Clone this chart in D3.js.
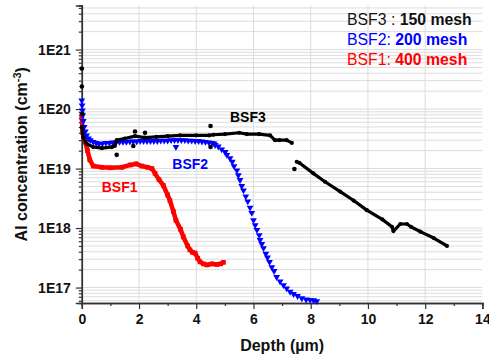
<!DOCTYPE html>
<html>
<head>
<meta charset="utf-8">
<script src="https://cdn.jsdelivr.net/npm/d3@7"></script>
<style>
  body { margin: 0; background: #fff; }
  svg { display: block; font-family: "Liberation Sans", Arial, sans-serif; }
</style>
</head>
<body>
<figure id="chart" style="margin:0"></figure>
<script>
// depth in µm, concentration in cm^-3
const bsf3Depth = [0.0, 0.05, 0.17, 0.4, 0.7, 1.05, 1.15, 1.22, 1.5, 1.86, 2.2, 2.6, 3.0, 3.44, 4.0, 4.45,
  4.6, 5.0, 5.5, 5.77, 6.2, 6.58, 6.75, 6.9, 7.16, 7.34, null,
  7.51, 7.6, 8.09, 8.5, 9.03, 9.5, 9.96, 10.5, 10.84, 10.89, 11.13, 11.36, 11.5, 11.83, 12.3, 12.76];
const bsf3Conc = [5.0e19, 3.3e19, 2.6e19, 2.3e19, 2.2e19, 2.3e19, 2.4e19, 3.0e19, 3.2e19, 3.5e19, 3.3e19, 3.4e19, 3.5e19, 3.6e19, 3.6e19, 3.6e19,
  3.7e19, 3.8e19, 4.0e19, 3.8e19, 3.8e19, 3.6e19, 3.0e19, 3.0e19, 3.0e19, 2.7e19, null,
  1.3e19, 1.25e19, 8.3e18, 6.0e18, 4.1e18, 2.9e18, 2.0e18, 1.4e18, 1.05e18, 8.9e17, 1.17e18, 1.17e18, 1.05e18, 8.7e17, 6.8e17, 5.0e17];
const bsf3OutDepth = [0.0, 0.0, 0.02, 1.22, 1.8, 1.86, 2.21, 4.5, 4.5, 7.43];
const bsf3OutConc = [4.8e20, 2.4e20, 8.3e19, 1.7e19, 2.4e19, 4.2e19, 4.0e19, 5.2e19, 2.3e19, 9.8e18];

const bsf2Depth = [0.0, 0.01, 0.02, 0.03, 0.05, 0.08, 0.12, 0.17, 0.23, 0.3, 0.4, 0.5, 0.6,
  0.72, 0.84, 0.96, 1.08, 1.2, 1.32, 1.44, 1.56, 1.68, 1.8, 1.92, 2.04, 2.16, 2.28, 2.4, 2.52, 2.64, 2.76, 2.88,
  3.0, 3.12, 3.24, 3.36, 3.48, 3.6, 3.72, 3.84, 3.96, 4.08, 4.2, 4.32, 4.44, 4.55, 4.62,
  4.66, 4.77, 4.89, 5.01, 5.07, 5.18, 5.26, 5.32, 5.42, 5.47, 5.53, 5.59, 5.65, 5.73, 5.8, 5.88, 5.94,
  6.0, 6.06, 6.12, 6.2, 6.23, 6.29, 6.35, 6.43, 6.49, 6.56, 6.64, 6.72, 6.81, 6.93, 7.05, 7.16, 7.28,
  7.4, 7.54, 7.69, 7.84, 7.98, 8.1, 8.21, 3.29];
const bsf2Conc = [1.4e20, 1.15e20, 9.5e19, 7.9e19, 6.3e19, 5.0e19, 4.2e19, 3.6e19, 3.2e19, 3.0e19, 2.8e19, 2.7e19, 2.6e19,
  2.65e19, 2.7e19, 2.7e19, 2.75e19, 2.75e19, 2.8e19, 2.8e19, 2.8e19, 2.85e19, 2.85e19, 2.85e19, 2.9e19, 2.9e19, 2.9e19, 2.9e19, 2.9e19, 2.9e19, 2.95e19, 2.95e19,
  2.95e19, 3.0e19, 3.0e19, 3.0e19, 3.0e19, 3.0e19, 2.95e19, 2.95e19, 2.9e19, 2.9e19, 2.85e19, 2.8e19, 2.75e19, 2.7e19, 2.65e19,
  2.48e19, 2.34e19, 2.1e19, 1.9e19, 1.7e19, 1.49e19, 1.3e19, 1.1e19, 9.3e18, 7.7e18, 6.4e18, 5.1e18, 4.3e18, 3.4e18, 2.8e18, 2.2e18, 1.8e18,
  1.36e18, 1.12e18, 9.3e17, 7.6e17, 6.3e17, 5.4e17, 4.6e17, 3.7e17, 3.2e17, 2.7e17, 2.2e17, 1.9e17, 1.5e17, 1.26e17, 1.1e17, 9.7e16, 8.5e16,
  7.8e16, 7.2e16, 6.6e16, 6.3e16, 6.2e16, 6.1e16, 5.9e16, 2.3e19];

const bsf1Depth = [0.0, 0.03, 0.12, 0.2, 0.28, 0.4, 0.7, 1.0, 1.4, 1.7, 1.9, 2.1, 2.3, 2.45, 2.56, 2.7, 2.85, 3.0,
  3.08, 3.2, 3.29, 3.45, 3.55, 3.7, 3.78, 3.87, 3.96, 4.05, 4.13, 4.25, 4.37, 4.55, 4.72, 4.85, 4.95];
const bsf1Conc = [7.4e19, 4.0e19, 2.8e19, 2.0e19, 1.4e19, 1.1e19, 1.05e19, 1.03e19, 1.05e19, 1.15e19, 1.2e19, 1.1e19, 1.05e19, 1.0e19, 8.3e18, 6.5e18, 5.2e18, 3.6e18,
  2.9e18, 1.9e18, 1.35e18, 9.5e17, 7.1e17, 5.0e17, 4.3e17, 3.9e17, 3.8e17, 3.1e17, 2.7e17, 2.5e17, 2.4e17, 2.5e17, 2.45e17, 2.5e17, 2.65e17];

const xTicks = [0, 2, 4, 6, 8, 10, 12, 14];
const xMinor = [1, 3, 5, 7, 9, 11, 13];
const yTicks = [1e17, 1e18, 1e19, 1e20, 1e21];
const yTickLabels = ["1E17", "1E18", "1E19", "1E20", "1E21"];

const width = 489, height = 358;
const plotLeft = 81.8, plotRight = 482.4, plotTop = 5.5, plotBottom = 303;

const svg = d3.select("#chart").append("svg")
  .attr("width", width)
  .attr("height", height);

const x = d3.scaleLinear().domain([0, 14]).range([plotLeft, plotRight]);
const y = d3.scaleLog().domain([5.5e16, 5.5e21]).range([plotBottom, plotTop]);

// grid
const grid = svg.append("g").attr("stroke", "#dcdcdc").attr("stroke-width", 1);
grid.selectAll("line.h")
  .data(y.ticks())
  .enter().append("line")
  .attr("x1", plotLeft).attr("x2", plotRight)
  .attr("y1", d => y(d)).attr("y2", d => y(d));
grid.selectAll("line.v")
  .data(xTicks.filter(d => d > 0 && d < 14))
  .enter().append("line")
  .attr("y1", plotTop).attr("y2", plotBottom)
  .attr("x1", d => x(d)).attr("x2", d => x(d));

// axes
svg.append("g")
  .attr("transform", "translate(0," + plotBottom + ")")
  .call(d3.axisBottom(x).tickValues(xTicks).tickSize(6).tickPadding(5));
svg.append("g")
  .attr("transform", "translate(0," + plotBottom + ")")
  .call(d3.axisBottom(x).tickValues(xMinor).tickSize(3).tickFormat(""));
svg.append("g")
  .attr("transform", "translate(" + plotLeft + ",0)")
  .call(d3.axisLeft(y).tickValues(yTicks).tickSize(6).tickPadding(5)
    .tickFormat((d, i) => yTickLabels[i]));
svg.append("g")
  .attr("transform", "translate(" + plotLeft + ",0)")
  .call(d3.axisLeft(y).tickValues(y.ticks().filter(d => !yTicks.includes(d))).tickSize(3).tickFormat(""));

svg.selectAll(".domain").attr("stroke", "#333").attr("stroke-width", 1.5);
svg.selectAll(".tick line").attr("stroke", "#333").attr("stroke-width", 1.2);
svg.selectAll(".tick text")
  .attr("fill", "#111")
  .style("font-size", "14px")
  .style("font-weight", "bold")
  .style("font-family", "'Liberation Sans', Arial, sans-serif");

// axis titles
svg.append("text")
  .attr("x", (plotLeft + plotRight) / 2)
  .attr("y", 351)
  .attr("text-anchor", "middle")
  .style("font-size", "16px")
  .style("font-weight", "bold")
  .attr("fill", "#111")
  .text("Depth (µm)");

const yTitle = svg.append("text")
  .attr("transform", "translate(27," + ((plotTop + plotBottom) / 2) + ") rotate(-90)")
  .attr("text-anchor", "middle")
  .style("font-size", "16px")
  .style("font-weight", "bold")
  .attr("fill", "#111");
yTitle.append("tspan").text("Al concentration (cm");
yTitle.append("tspan").attr("dy", -6).style("font-size", "11px").text("-3");
yTitle.append("tspan").attr("dy", 6).text(")");

// series
const plot = svg.append("g");

const bsf1 = bsf1Depth.map((d, i) => ({ d: d, c: bsf1Conc[i] }));
const bsf2 = bsf2Depth.map((d, i) => ({ d: d, c: bsf2Conc[i] }));
const bsf3 = bsf3Depth.map((d, i) => ({ d: d, c: bsf3Conc[i] }));
const bsf3Out = bsf3OutDepth.map((d, i) => ({ d: d, c: bsf3OutConc[i] }));

const line = d3.line()
  .defined(p => p.d != null && p.c != null)
  .x(p => x(p.d))
  .y(p => y(p.c));

// BSF1 red squares
plot.append("path")
  .datum(bsf1)
  .attr("d", line)
  .attr("fill", "none")
  .attr("stroke", "#ff0000")
  .attr("stroke-width", 4.5)
  .attr("stroke-linejoin", "round");
plot.selectAll("path.sq")
  .data(bsf1)
  .enter().append("path")
  .attr("class", "sq")
  .attr("d", d3.symbol().type(d3.symbolSquare).size(22))
  .attr("transform", p => "translate(" + x(p.d) + "," + y(p.c) + ")")
  .attr("fill", "#ff0000");

// BSF2 blue down triangles
plot.selectAll("path.tri")
  .data(bsf2)
  .enter().append("path")
  .attr("class", "tri")
  .attr("d", d3.symbol().type(d3.symbolTriangle).size(20))
  .attr("transform", p => "translate(" + x(p.d) + "," + y(p.c) + ") rotate(180)")
  .attr("fill", "#0000ff");

// BSF3 black dots
plot.append("path")
  .datum(bsf3)
  .attr("d", line)
  .attr("fill", "none")
  .attr("stroke", "#000")
  .attr("stroke-width", 3.2)
  .attr("stroke-linejoin", "round");
plot.selectAll("circle.main")
  .data(bsf3.filter(p => p.d != null))
  .enter().append("circle")
  .attr("class", "main")
  .attr("cx", p => x(p.d))
  .attr("cy", p => y(p.c))
  .attr("r", 2.1)
  .attr("fill", "#000");
plot.selectAll("circle.out")
  .data(bsf3Out)
  .enter().append("circle")
  .attr("class", "out")
  .attr("cx", p => x(p.d))
  .attr("cy", p => y(p.c))
  .attr("r", 2.3)
  .attr("fill", "#000");

// curve labels
const curveLabels = [
  { t: "BSF3", x: 230, y: 121.5, c: "#000" },
  { t: "BSF2", x: 172.3, y: 169, c: "#0000ff" },
  { t: "BSF1", x: 101.7, y: 191.7, c: "#ff0000" }
];
svg.selectAll("text.lab")
  .data(curveLabels)
  .enter().append("text")
  .attr("class", "lab")
  .attr("x", d => d.x)
  .attr("y", d => d.y)
  .attr("fill", d => d.c)
  .style("font-size", "14px")
  .style("font-weight", "bold")
  .text(d => d.t);

// legend
const legend = [
  { a: "BSF3 : ", b: "150 mesh", c: "#111", y: 25 },
  { a: "BSF2: ", b: "200 mesh", c: "#0000ff", y: 45 },
  { a: "BSF1: ", b: "400 mesh", c: "#ff0000", y: 65 }
];
const leg = svg.selectAll("text.leg")
  .data(legend)
  .enter().append("text")
  .attr("class", "leg")
  .attr("x", 347)
  .attr("y", d => d.y)
  .attr("fill", d => d.c)
  .style("font-size", "15.8px");
leg.append("tspan").text(d => d.a);
leg.append("tspan").style("font-weight", "bold").text(d => d.b);
</script>
</body>
</html>
